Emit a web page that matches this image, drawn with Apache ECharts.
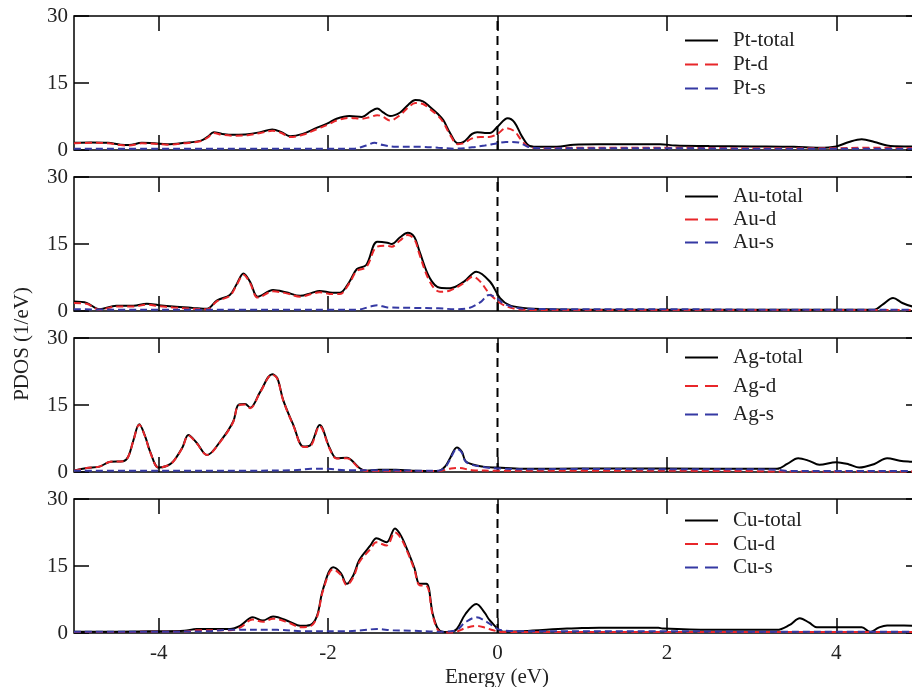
<!DOCTYPE html>
<html>
<head>
<meta charset="utf-8">
<script src="https://cdn.jsdelivr.net/npm/echarts@6/dist/echarts.min.js"></script>
<style>
  html, body { margin: 0; padding: 0; background: #fff; }
  #chart { width: 912px; height: 687px; }
</style>
</head>
<body>
<div id="chart"></div>
<script>
// Projected density of states, energies in eV relative to the Fermi level
const metals = ['Pt', 'Au', 'Ag', 'Cu'];
const energyTicks = [-4, -2, 0, 2, 4];
const pdosTicks = [0, 15, 30];

const ptTotal = [[-5,1.6],[-4.8,1.7],[-4.6,1.6],[-4.45,1.2],[-4.35,1.1],[-4.2,1.6],[-4.05,1.5],[-3.9,1.3],[-3.7,1.6],[-3.5,2.1],[-3.42,3.0],[-3.35,4.0],[-3.25,3.6],[-3.1,3.4],[-2.95,3.5],[-2.8,4.0],[-2.66,4.6],[-2.55,4.0],[-2.45,3.1],[-2.3,3.6],[-2.13,5.0],[-2.0,6.0],[-1.9,7.0],[-1.75,7.6],[-1.6,7.4],[-1.5,8.6],[-1.42,9.3],[-1.35,8.4],[-1.27,7.6],[-1.15,8.4],[-1.05,10.2],[-0.97,11.2],[-0.88,10.9],[-0.8,9.7],[-0.7,8.0],[-0.64,6.7],[-0.56,3.8],[-0.47,1.5],[-0.4,1.8],[-0.3,3.6],[-0.24,4.0],[-0.15,3.8],[-0.09,3.8],[0,5.2],[0.12,7.1],[0.2,6.2],[0.29,3.0],[0.38,0.9],[0.5,0.7],[0.7,0.7],[0.9,1.2],[1.2,1.3],[1.6,1.3],[1.92,1.3],[2.1,1.0],[2.5,0.9],[3.0,0.8],[3.5,0.7],[3.8,0.5],[4.0,0.8],[4.15,1.8],[4.3,2.4],[4.45,1.8],[4.6,1.0],[4.8,0.8],[5,0.8]];
const ptD = [[-5,1.5],[-4.8,1.6],[-4.6,1.5],[-4.45,1.1],[-4.35,1.0],[-4.2,1.5],[-4.05,1.4],[-3.9,1.2],[-3.7,1.5],[-3.5,2.0],[-3.42,2.8],[-3.35,3.8],[-3.25,3.4],[-3.1,3.2],[-2.95,3.3],[-2.8,3.8],[-2.66,4.3],[-2.55,3.8],[-2.45,2.9],[-2.3,3.4],[-2.13,4.7],[-2.0,5.7],[-1.9,6.6],[-1.75,7.2],[-1.6,7.0],[-1.5,7.4],[-1.42,7.8],[-1.35,7.4],[-1.27,6.6],[-1.15,7.8],[-1.05,9.6],[-0.97,10.5],[-0.88,10.3],[-0.8,9.2],[-0.7,7.6],[-0.64,6.2],[-0.56,3.4],[-0.47,1.3],[-0.4,1.5],[-0.3,2.6],[-0.2,2.9],[-0.1,2.9],[0,3.6],[0.1,4.9],[0.2,4.2],[0.29,2.0],[0.38,0.6],[0.5,0.4],[1,0.5],[2,0.5],[3,0.4],[4,0.4],[4.3,0.5],[5,0.4]];
const ptS = [[-5,0.3],[-4,0.3],[-3,0.3],[-2,0.3],[-1.7,0.3],[-1.55,1.0],[-1.45,1.6],[-1.35,1.1],[-1.2,0.7],[-0.9,0.7],[-0.7,0.5],[-0.5,0.3],[-0.3,0.6],[-0.15,1.0],[0,1.5],[0.1,1.8],[0.25,1.7],[0.35,0.8],[0.5,0.4],[1,0.4],[2,0.4],[3,0.3],[4,0.3],[5,0.3]];

const auTotal = [[-5,2.1],[-4.85,1.8],[-4.7,0.4],[-4.5,1.2],[-4.3,1.2],[-4.14,1.6],[-4.0,1.3],[-3.83,1.0],[-3.6,0.7],[-3.43,0.5],[-3.31,2.4],[-3.16,3.6],[-3.08,6.0],[-3.0,8.4],[-2.92,6.5],[-2.83,3.2],[-2.65,4.7],[-2.5,4.2],[-2.33,3.4],[-2.2,4.0],[-2.1,4.5],[-1.95,4.1],[-1.86,4.1],[-1.75,6.5],[-1.66,9.4],[-1.55,10.3],[-1.42,15.5],[-1.3,15.3],[-1.25,15.0],[-1.15,16.5],[-1.06,17.5],[-0.98,16.5],[-0.92,13.3],[-0.8,7.4],[-0.68,5.2],[-0.56,5.1],[-0.4,6.5],[-0.25,8.8],[-0.09,6.6],[0.03,2.9],[0.14,1.3],[0.3,0.7],[0.42,0.5],[1,0.3],[2,0.3],[3,0.3],[4,0.3],[4.45,0.3],[4.55,1.5],[4.67,2.9],[4.78,1.8],[4.9,1.0],[5,0.8]];
const auD = [[-5,1.8],[-4.85,1.6],[-4.7,0.3],[-4.5,1.0],[-4.3,1.0],[-4.14,1.4],[-4.0,1.1],[-3.83,0.8],[-3.6,0.5],[-3.43,0.4],[-3.31,2.2],[-3.16,3.4],[-3.08,5.8],[-3.0,8.1],[-2.92,6.2],[-2.83,3.0],[-2.65,4.4],[-2.5,4.0],[-2.33,3.2],[-2.2,3.8],[-2.1,4.2],[-1.95,3.8],[-1.86,3.8],[-1.75,6.2],[-1.66,9.0],[-1.55,9.8],[-1.42,14.4],[-1.3,14.6],[-1.25,14.4],[-1.15,15.8],[-1.06,17.0],[-0.98,16.0],[-0.92,12.6],[-0.8,6.6],[-0.68,4.3],[-0.56,4.6],[-0.4,6.2],[-0.29,7.7],[-0.2,6.5],[-0.1,4.0],[0.03,1.8],[0.14,0.8],[0.25,0.4],[0.4,0.2],[1,0.2],[2,0.2],[3,0.2],[4,0.2],[5,0.2]];
const auS = [[-5,0.4],[-4.5,0.3],[-3,0.3],[-2,0.3],[-1.65,0.3],[-1.5,1.0],[-1.42,1.3],[-1.3,0.8],[-1.0,0.7],[-0.7,0.6],[-0.5,0.4],[-0.35,0.6],[-0.2,2.0],[-0.1,3.6],[0.0,2.8],[0.06,1.8],[0.2,0.8],[0.35,0.5],[1,0.4],[2,0.4],[3,0.3],[4,0.3],[5,0.3]];

const agTotal = [[-5,0.3],[-4.85,0.9],[-4.7,1.2],[-4.57,2.3],[-4.42,2.4],[-4.36,3.4],[-4.3,7.0],[-4.23,10.7],[-4.16,8.0],[-4.1,4.5],[-4.0,1.0],[-3.9,1.4],[-3.83,2.3],[-3.72,5.5],[-3.65,8.3],[-3.55,6.5],[-3.43,3.8],[-3.26,7.2],[-3.12,11.3],[-3.06,15.0],[-2.98,15.2],[-2.92,14.4],[-2.8,18.0],[-2.66,21.9],[-2.6,21.0],[-2.53,16.1],[-2.41,10.5],[-2.29,5.7],[-2.21,6.0],[-2.1,10.5],[-1.98,5.3],[-1.9,3.1],[-1.78,3.2],[-1.63,0.9],[-1.55,0.3],[-1.4,0.5],[-1.2,0.5],[-1.0,0.3],[-0.7,0.2],[-0.62,1.2],[-0.56,3.1],[-0.48,5.5],[-0.42,4.5],[-0.37,2.3],[-0.17,1.2],[0,1.0],[0.3,0.7],[1,0.8],[2,0.8],[3,0.7],[3.3,0.7],[3.42,1.8],[3.55,3.1],[3.68,2.5],[3.8,1.6],[4.0,2.2],[4.15,1.7],[4.27,1.0],[4.45,1.8],[4.6,3.1],[4.75,2.5],[4.87,2.3],[5,2.2]];
const agD = [[-5,0.3],[-4.85,0.9],[-4.7,1.2],[-4.57,2.3],[-4.42,2.4],[-4.36,3.4],[-4.3,6.9],[-4.23,10.6],[-4.16,7.9],[-4.1,4.4],[-4.0,1.0],[-3.9,1.4],[-3.83,2.3],[-3.72,5.4],[-3.65,8.2],[-3.55,6.4],[-3.43,3.8],[-3.26,7.1],[-3.12,11.2],[-3.06,14.9],[-2.98,15.1],[-2.92,14.3],[-2.8,17.9],[-2.66,21.8],[-2.6,20.9],[-2.53,16.0],[-2.41,10.4],[-2.29,5.6],[-2.21,5.8],[-2.1,10.3],[-1.98,5.1],[-1.9,3.0],[-1.78,3.1],[-1.63,0.8],[-1.55,0.2],[-1.4,0.2],[-0.7,0.2],[-0.55,0.8],[-0.45,0.9],[-0.3,0.4],[0,0.3],[1,0.3],[3,0.2],[3.3,0.1],[5,0.1]];
const agS = [[-5,0.3],[-4,0.3],[-3,0.3],[-2.4,0.4],[-2.2,0.7],[-2.0,0.7],[-1.8,0.4],[-1.4,0.4],[-0.9,0.3],[-0.7,0.3],[-0.62,1.0],[-0.56,2.8],[-0.48,5.2],[-0.42,4.3],[-0.37,2.2],[-0.17,1.1],[0,0.8],[0.3,0.6],[1,0.7],[2,0.6],[3,0.6],[3.3,0.5],[3.45,0.2],[5,0.2]];

const cuTotal = [[-5,0.3],[-4.5,0.3],[-4,0.4],[-3.7,0.5],[-3.55,0.9],[-3.16,0.9],[-3.04,1.6],[-2.89,3.5],[-2.77,2.8],[-2.65,3.7],[-2.45,2.5],[-2.33,1.6],[-2.21,1.8],[-2.13,3.9],[-2.06,9.8],[-1.94,14.7],[-1.85,13.4],[-1.78,11.0],[-1.7,13.0],[-1.63,16.4],[-1.5,19.6],[-1.43,21.2],[-1.31,20.3],[-1.21,23.4],[-1.14,21.8],[-1.06,18.4],[-0.98,14.5],[-0.92,11.0],[-0.84,11.0],[-0.76,3.9],[-0.68,0.5],[-0.56,0.2],[-0.48,0.9],[-0.38,4.2],[-0.25,6.5],[-0.15,4.5],[-0.09,2.8],[0.07,0.3],[0.3,0.4],[0.82,1.0],[1.0,1.1],[1.2,1.2],[1.9,1.2],[1.95,1.0],[2.5,0.7],[3.3,0.7],[3.45,1.8],[3.57,3.3],[3.68,2.3],[3.77,1.3],[4.3,1.3],[4.4,0.2],[4.5,1.2],[4.6,1.7],[4.8,1.7],[5,1.5]];
const cuD = [[-5,0.2],[-4.5,0.2],[-4,0.3],[-3.7,0.3],[-3.55,0.6],[-3.16,0.6],[-3.04,1.2],[-2.89,3.0],[-2.77,2.5],[-2.65,3.2],[-2.45,2.2],[-2.33,1.3],[-2.21,1.5],[-2.13,3.6],[-2.06,9.5],[-1.94,14.3],[-1.85,13.0],[-1.78,10.7],[-1.7,12.6],[-1.63,15.9],[-1.5,18.8],[-1.43,20.3],[-1.31,19.6],[-1.21,22.5],[-1.14,21.2],[-1.06,18.0],[-0.98,14.1],[-0.92,10.7],[-0.84,10.6],[-0.76,3.6],[-0.68,0.3],[-0.56,0.1],[-0.48,0.3],[-0.38,1.1],[-0.25,1.6],[-0.15,1.2],[-0.05,0.6],[0.07,0.2],[1,0.2],[2,0.2],[3,0.2],[4,0.2],[5,0.2]];
const cuS = [[-5,0.3],[-4,0.3],[-3.4,0.4],[-3.2,0.7],[-2.6,0.7],[-2.3,0.4],[-1.8,0.4],[-1.6,0.6],[-1.42,0.9],[-1.25,0.6],[-1.0,0.5],[-0.7,0.3],[-0.5,0.5],[-0.38,2.4],[-0.25,3.5],[-0.12,2.4],[0.05,0.6],[0.3,0.4],[2,0.4],[3,0.3],[4,0.3],[5,0.3]];

const totals = [ptTotal, auTotal, agTotal, cuTotal];
const dParts = [ptD, auD, agD, cuD];
const sParts = [ptS, auS, agS, cuS];

// Layout of the four stacked panels (the energy window runs a little past the right edge)
const panelTop = [16, 177, 338, 499];
const panelHeight = 134;
const legendTop = [30, 186, 347, 510];
const legendGap = [3, 2, 7.5, 2.5];

const SERIF = 'Liberation Serif';
const FONT_SIZE = 21;
const BLACK = '#000';
const RED = '#e8262a';
const BLUE = '#3539a3';

// Legend keys: a solid bar and a two-dash bar
const SOLID_KEY = 'path://M0,0h33v2h-33z';
const DASH_KEY = 'path://M0,0h13v2h-13zM20,0h13v2h-13z';

const grids = [], xAxes = [], yAxes = [], series = [], legends = [];

metals.forEach((m, i) => {
  grids.push({
    left: 74, width: 847, top: panelTop[i], height: panelHeight,
    outerBoundsMode: 'none', containLabel: false,
    show: true, borderColor: BLACK, borderWidth: 1.5, backgroundColor: 'transparent'
  });
  const tickStyle = { inside: true, length: 15, customValues: energyTicks, lineStyle: { color: BLACK, width: 1.5 } };
  // bottom and top energy axes
  xAxes.push({
    type: 'value', gridIndex: i, position: 'bottom', min: -5, max: 5,
    axisLine: { show: false, onZero: false }, splitLine: { show: false },
    axisTick: tickStyle,
    axisLabel: {
      show: i === metals.length - 1, customValues: energyTicks, margin: 10,
      fontFamily: SERIF, fontSize: FONT_SIZE, color: '#222'
    }
  });
  xAxes.push({
    type: 'value', gridIndex: i, position: 'top', min: -5, max: 5,
    axisLine: { show: false, onZero: false }, splitLine: { show: false },
    axisTick: tickStyle, axisLabel: { show: false }
  });
  // left and right PDOS axes
  const yTick = { inside: true, length: 15, customValues: pdosTicks, lineStyle: { color: BLACK, width: 1.5 } };
  yAxes.push({
    type: 'value', gridIndex: i, position: 'left', min: 0, max: 30, interval: 15,
    axisLine: { show: false, onZero: false }, splitLine: { show: false }, axisTick: yTick,
    axisLabel: { margin: 6, fontFamily: SERIF, fontSize: FONT_SIZE, color: '#222' }
  });
  yAxes.push({
    type: 'value', gridIndex: i, position: 'right', min: 0, max: 30, interval: 15,
    axisLine: { show: false, onZero: false }, splitLine: { show: false }, axisTick: yTick,
    axisLabel: { show: false }
  });

  const xi = i * 2, yi = i * 2;
  // Fermi level
  series.push({
    type: 'line', xAxisIndex: xi, yAxisIndex: yi, silent: true, symbol: 'none',
    data: [[0, 0], [0, 30]], z: 1,
    lineStyle: { color: BLACK, width: 2, type: [9, 6] }
  });
  series.push({
    name: m + '-total', type: 'line', xAxisIndex: xi, yAxisIndex: yi,
    data: totals[i], smooth: 0.35, symbol: 'none', z: 2,
    lineStyle: { color: BLACK, width: 2 }, itemStyle: { color: BLACK }
  });
  series.push({
    name: m + '-d', type: 'line', xAxisIndex: xi, yAxisIndex: yi,
    data: dParts[i], smooth: 0.35, symbol: 'none', z: 3,
    lineStyle: { color: RED, width: 2, type: [7, 4] }, itemStyle: { color: RED }
  });
  series.push({
    name: m + '-s', type: 'line', xAxisIndex: xi, yAxisIndex: yi,
    data: sParts[i], smooth: 0.35, symbol: 'none', z: 4,
    lineStyle: { color: BLUE, width: 2, type: [7, 4] }, itemStyle: { color: BLUE }
  });

  legends.push({
    orient: 'vertical', left: 685, top: legendTop[i], padding: 0,
    itemWidth: 33, itemHeight: 2, itemGap: legendGap[i],
    selectedMode: false,
    data: [
      { name: m + '-total', icon: SOLID_KEY },
      { name: m + '-d', icon: DASH_KEY },
      { name: m + '-s', icon: DASH_KEY }
    ],
    textStyle: { fontFamily: SERIF, fontSize: FONT_SIZE, color: '#222', lineHeight: 21, padding: [0, 0, 0, 10] }
  });
});

const chart = echarts.init(document.getElementById('chart'), null, { renderer: 'canvas' });
chart.setOption({
  animation: false,
  backgroundColor: '#fff',
  grid: grids,
  xAxis: xAxes,
  yAxis: yAxes,
  legend: legends,
  series: series,
  graphic: [
    {
      type: 'text', x: 497, y: 677,
      style: { text: 'Energy (eV)', fontFamily: SERIF, fontSize: FONT_SIZE, fill: '#222', align: 'center', verticalAlign: 'middle' }
    },
    {
      type: 'text', x: 22, y: 344, rotation: Math.PI / 2,
      style: { text: 'PDOS (1/eV)', fontFamily: SERIF, fontSize: FONT_SIZE, fill: '#222', align: 'center', verticalAlign: 'middle' }
    }
  ]
});
</script>
</body>
</html>
